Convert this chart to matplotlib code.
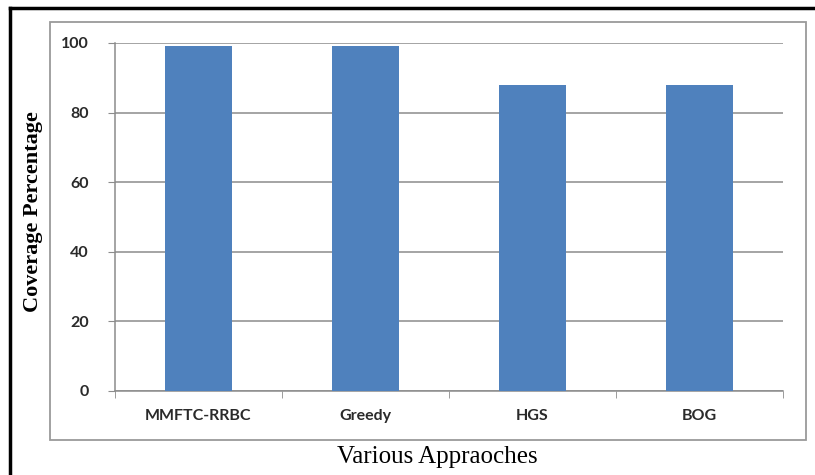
import matplotlib.pyplot as plt
from matplotlib.patches import Rectangle
from matplotlib.lines import Line2D

approaches = ['MMFTC-RRBC', 'Greedy', 'HGS', 'BOG']
coverage = [99, 99, 88, 88]
yticks = [0, 20, 40, 60, 80, 100]

W, H = 815, 475
fig = plt.figure(figsize=(W / 100, H / 100), dpi=100)

# outer black frame (top and left edges visible)
fig.add_artist(Line2D([10 / W, 1.0], [1 - 8 / H, 1 - 8 / H], color='black', lw=2.5,
                      transform=fig.transFigure))
fig.add_artist(Line2D([10 / W, 10 / W], [0.0, 1 - 8 / H], color='black', lw=2.5,
                      transform=fig.transFigure))

# grey chart area border
fig.add_artist(Rectangle((50 / W, 1 - 440 / H), (806 - 50) / W, (440 - 22) / H,
                         fill=False, edgecolor='#9a9a9a', lw=1.3,
                         transform=fig.transFigure))

ax = fig.add_axes([115 / W, 1 - 391 / H, (783 - 115) / W, (391 - 43) / H])
x = range(len(approaches))
ax.bar(x, coverage, width=0.4, color='#4f81bd', zorder=3)

tick_font = dict(fontfamily='Lato', fontweight='bold', fontsize=11.5, color='#2a2a2a')
ax.set_xlim(-0.5, len(approaches) - 0.5)
ax.set_ylim(0, 100)
ax.set_yticks(yticks)
ax.set_xticks(list(x))
ax.set_xticklabels(approaches, **tick_font)
ax.set_yticklabels([str(v) for v in yticks], **tick_font)
ax.set_xticks([i - 0.5 for i in range(len(approaches) + 1)], minor=True)
ax.tick_params(axis='x', which='major', length=0, pad=13)
ax.tick_params(axis='x', which='minor', length=5, color='#8c8c8c', direction='out')
ax.tick_params(axis='y', length=5, color='#8c8c8c', pad=14)

ax.grid(axis='y', color='#8c8c8c', lw=1.1, zorder=0)
for side in ['top', 'right']:
    ax.spines[side].set_visible(False)
for side in ['left', 'bottom']:
    ax.spines[side].set_color('#8c8c8c')
    ax.spines[side].set_linewidth(1.1)

fig.text(33 / W, 1 - 212 / H, 'Coverage Percentage', rotation=90, ha='center',
         va='center', fontfamily='Liberation Serif', fontweight='bold', fontsize=16)
fig.text(437 / W, 1 - 457 / H, 'Various Appraoches', ha='center', va='center',
         fontfamily='Liberation Serif', fontsize=18)

fig.savefig('out.png', dpi=100)
